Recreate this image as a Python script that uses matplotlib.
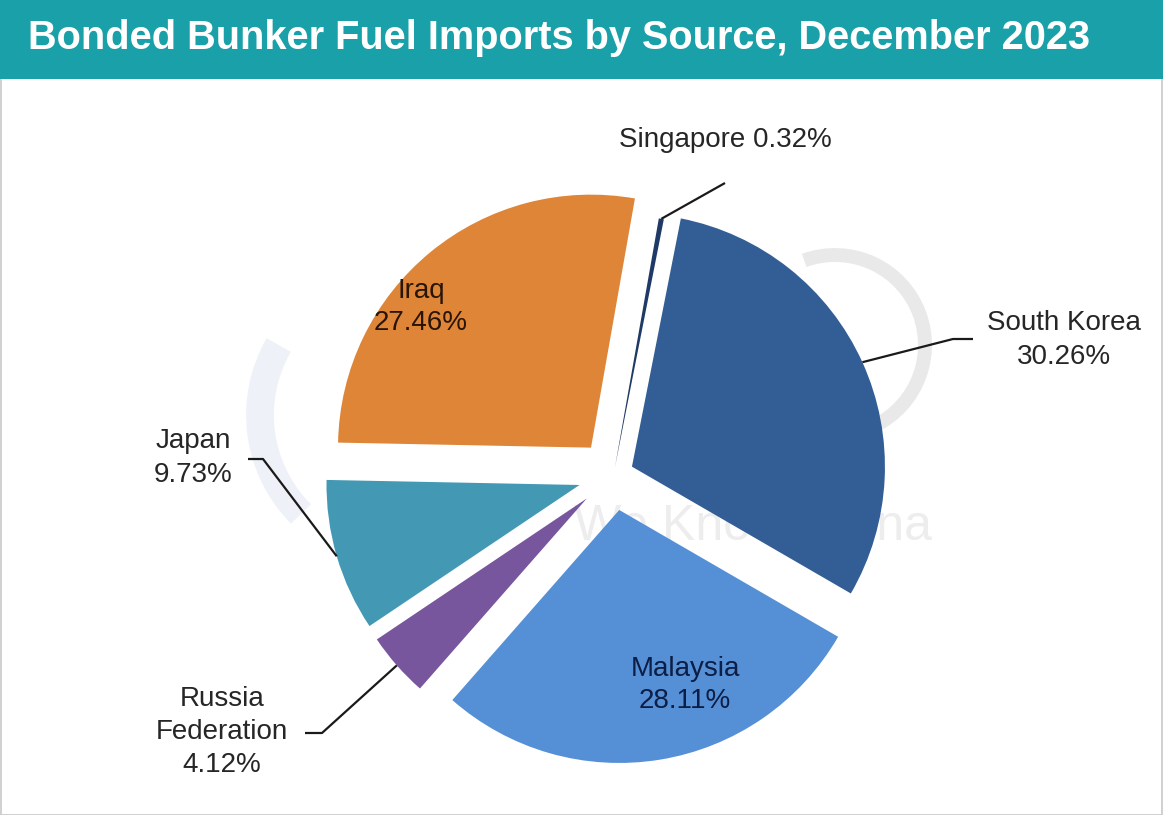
import matplotlib
matplotlib.use('Agg')
import matplotlib.pyplot as plt
import numpy as np
from matplotlib.patches import Rectangle, Arc

# ---------------- data ----------------
sources = ['Singapore', 'South Korea', 'Malaysia', 'Russia\nFederation', 'Japan', 'Iraq']
shares = [0.32, 30.26, 28.11, 4.12, 9.73, 27.46]
title = 'Bonded Bunker Fuel Imports by Source, December 2023'

# ---------------- style ----------------
colors = ['#1F3A66', '#335E95', '#5590D6', '#77569E', '#4398B4', '#DE8538']
explode = [0.03, 0.08, 0.14, 0.14, 0.14, 0.14]
label_colors = ['#262626', '#262626', '#0C1E45', '#262626', '#262626', '#2A1405']
plt.rcParams['font.family'] = ['Liberation Sans', 'DejaVu Sans']

W, H, DPI = 1163, 815, 100
CX, CY, R = 613.5, 475.0, 253.0   # pie centre / radius in pixels

fig = plt.figure(figsize=(W / DPI, H / DPI), dpi=DPI)
fig.patch.set_facecolor('white')
ax = fig.add_axes([0, 0, 1, 1])


def p(px, py):
    return ((px - CX) / R, (CY - py) / R)


# faint watermark behind the pie
wx, wy = p(835, 345)
ax.add_patch(Arc((wx, wy), 2 * 90 / R, 2 * 90 / R, theta1=-70, theta2=110,
                 lw=10, color='#e9e9e9', zorder=0))
lx, ly = p(400, 415)
ax.add_patch(Arc((lx, ly), 2 * 140 / R, 2 * 140 / R, theta1=150, theta2=225,
                 lw=20, color='#eef1f7', zorder=0))
tx, ty = p(753, 527)
ax.text(tx, ty, 'We Know China', fontsize=36, color='#ededed', ha='center',
        va='center', zorder=0)

wedges, _ = ax.pie(shares, colors=colors, explode=explode, startangle=80,
                   counterclock=False, radius=1, center=(0, 0),
                   wedgeprops=dict(linewidth=0), frame=True)
for w in wedges:
    w.set_zorder(2)

ax.set_aspect('auto')
ax.set_xlim(-CX / R, (W - CX) / R)
ax.set_ylim((CY - H) / R, CY / R)
ax.axis('off')


def arc_point(w, r=1.0):
    mid = np.deg2rad((w.theta1 + w.theta2) / 2)
    cx, cy = w.center
    return cx + w.r * r * np.cos(mid), cy + w.r * r * np.sin(mid)


# label layout (pixel positions): label centre, leader bend points
layout = {
    0: dict(text=(725, 140), bends=[(725, 183)], single=True),
    1: dict(text=(1064, 340), bends=[(953, 339), (973, 339)]),
    2: dict(text=(685, 685), bends=None),
    3: dict(text=(222, 732), bends=[(322, 733), (305, 733)]),
    4: dict(text=(193, 458), bends=[(263, 459), (248, 459)]),
    5: dict(text=(421, 307), bends=None),
}

for i, (name, val) in enumerate(zip(sources, shares)):
    lay = layout[i]
    if lay.get('single'):
        txt = f'{name} {val:.2f}%'
    else:
        txt = f'{name}\n{val:.2f}%'
    x, y = p(*lay['text'])
    ax.text(x, y, txt, ha='center', va='center', fontsize=20,
            color=label_colors[i], linespacing=1.35, zorder=5)
    if lay['bends']:
        sx, sy = arc_point(wedges[i], 1.0)
        pts = [(sx, sy)] + [p(*b) for b in lay['bends']]
        xs, ys = zip(*pts)
        ax.plot(xs, ys, color='#1a1a1a', lw=1.6, zorder=4,
                solid_capstyle='butt')

# title bar
bar_h = 79 / H
fig.add_artist(Rectangle((0, 1 - bar_h), 1, bar_h, transform=fig.transFigure,
                         facecolor='#1AA0A8', edgecolor='none', zorder=10))
fig.text(28 / W, 1 - 49 / H, title, fontsize=28.6, fontweight='bold',
         color='white', ha='left', va='baseline', zorder=11)

# chart border
fig.add_artist(Rectangle((0.5 / W, 0.5 / H), 1 - 1.5 / W, 1 - 1.5 / H,
                         transform=fig.transFigure, facecolor='none',
                         edgecolor='#c8c8c8', lw=1.2, zorder=9))

fig.savefig('out.png', dpi=DPI)
